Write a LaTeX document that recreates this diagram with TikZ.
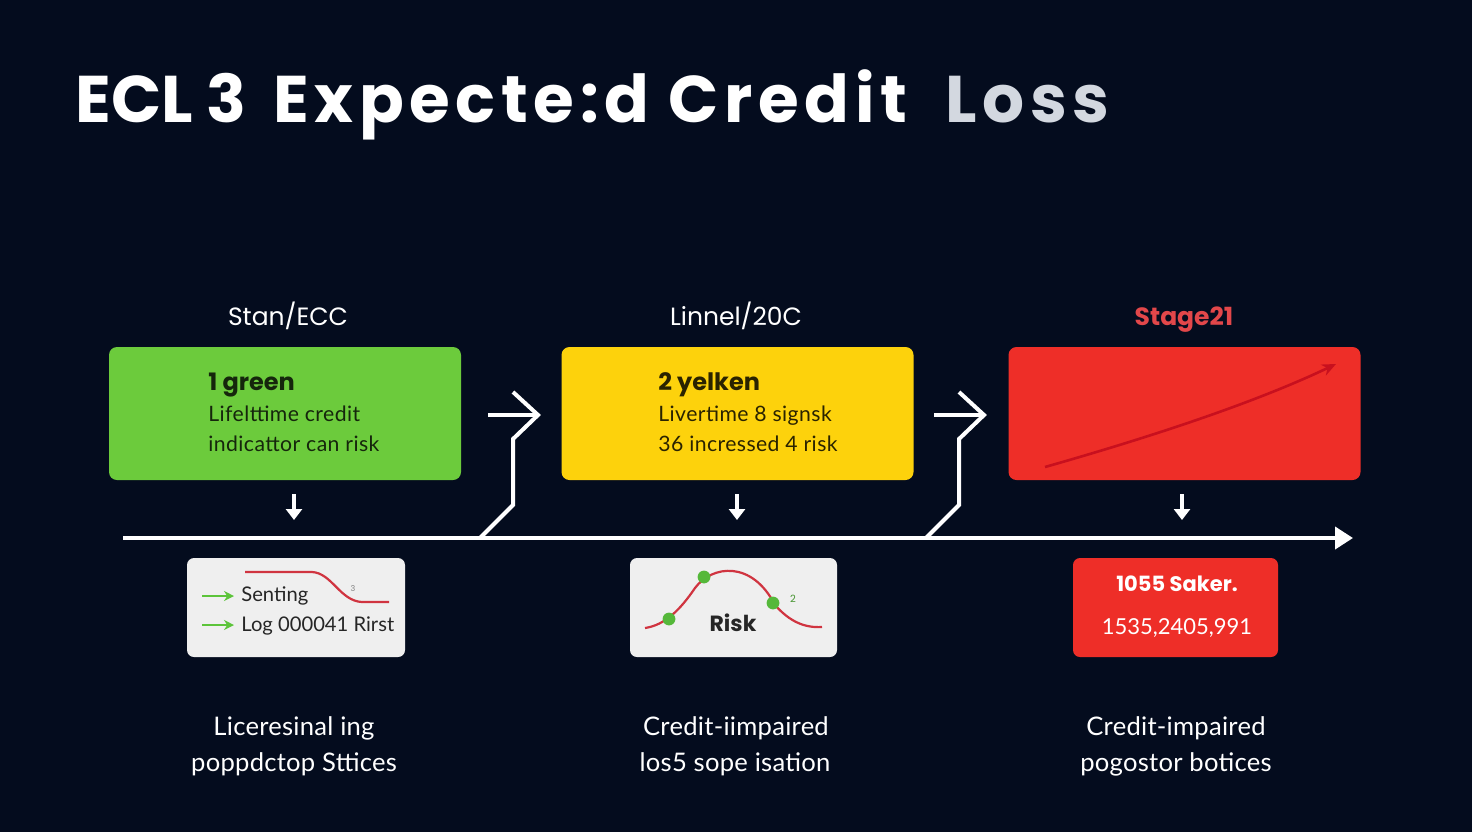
\documentclass[tikz,border=0pt]{standalone}
\usepackage{fontspec}
\setmainfont{Poppins}
\newfontfamily\titlefont[LetterSpace=8.5]{Poppins}
\newfontfamily\bodyfont{Lato}
\newfontfamily\boxfont[LetterSpace=2]{Lato}
\newfontfamily\botfont[LetterSpace=1]{Lato}
\usetikzlibrary{arrows.meta}
\definecolor{bgc}{HTML}{040C1E}
\definecolor{grn}{HTML}{6CCB3C}
\definecolor{ylw}{HTML}{FDD20C}
\definecolor{rdb}{HTML}{EE2E28}
\definecolor{rdl}{HTML}{E2474A}
\definecolor{rdline}{HTML}{C8101E}
\definecolor{lossc}{HTML}{D3D8E0}
\definecolor{cardc}{HTML}{EFEFEF}
\definecolor{gtxt}{HTML}{15260C}
\definecolor{ytxt}{HTML}{2A2300}
\definecolor{arrg}{HTML}{5CC43A}
\definecolor{dotg}{HTML}{55B83A}
\tikzset{
  titletxt/.style={anchor=base west, inner sep=0pt, font=\titlefont\fontsize{33}{36}\selectfont\bfseries},
  stagelbl/.style={anchor=base, inner sep=0pt, font=\fontsize{12.5}{14}\selectfont},
  stagebox/.style={rectangle, rounded corners=4pt, minimum width=176pt, minimum height=66.5pt, inner sep=0pt},
  boxhead/.style={anchor=base west, inner sep=0pt, font=\fontsize{12}{14}\selectfont\bfseries},
  boxtxt/.style={anchor=base west, inner sep=0pt, font=\boxfont\fontsize{10.6}{12}\selectfont},
  card/.style={rectangle, rounded corners=3.5pt, minimum height=49.5pt, inner sep=0pt},
  cardtxt/.style={anchor=base west, inner sep=0pt, font=\bodyfont\fontsize{10.1}{12}\selectfont, text=black!85},
  bottxt/.style={anchor=base, inner sep=0pt, font=\botfont\fontsize{12.8}{14}\selectfont, text=white},
  wline/.style={draw=white, line width=2pt},
  downarr/.style={draw=white, line width=1.6pt, -{Triangle[width=8pt,length=5.5pt]}},
}
\begin{document}
\begin{tikzpicture}[x=0.5pt,y=-0.5pt]
\fill[bgc] (0,0) rectangle (1472,832);
\useasboundingbox (0,0) rectangle (1472,832);

% title
\node[titletxt, text=white, font=\fontsize{33}{36}\selectfont\bfseries] (t1) at (75,122) {ECL 3};
\node[titletxt, text=white] (t2) at (273,122) {Expecte:d Credit};
\node[titletxt, text=lossc] (t3) at (945,122) {Loss};

% stage labels
\node[stagelbl, text=white] (l1) at (288,325) {Stan/ECC};
\node[stagelbl, text=white] (l2) at (736,325) {Linnel/20C};
\node[stagelbl, text=rdl, font=\fontsize{12.5}{14}\selectfont\bfseries] (l3) at (1184,325) {Stage21};

% stage boxes
\node[stagebox, fill=grn] (b1) at (285,413.5) {};
\node[stagebox, fill=ylw] (b2) at (737.5,413.5) {};
\node[stagebox, fill=rdb] (b3) at (1184.5,413.5) {};

\node[boxhead, text=gtxt] (b1h) at (208,390) {1 green};
\node[boxtxt, text=gtxt] (b1a) at (208,421) {Lifelttime credit};
\node[boxtxt, text=gtxt] (b1b) at (208,451) {indicattor can risk};

\node[boxhead, text=ytxt] (b2h) at (658,390) {2 yelken};
\node[boxtxt, text=ytxt] (b2a) at (658,421) {Livertime 8 signsk};
\node[boxtxt, text=ytxt] (b2b) at (658,451) {36 incressed 4 risk};

\coordinate (r1) at (1045,467);
\coordinate (r2) at (1336,364);
\draw[rdline, line width=1.3pt, -{Stealth[length=7pt,width=6pt]}] (r1) .. controls (1140,440) and (1250,405) .. (r2);

% small down arrows
\coordinate (d1a) at (294,494); \coordinate (d1b) at (294,520);
\coordinate (d2a) at (737,494); \coordinate (d2b) at (737,520);
\coordinate (d3a) at (1182,494); \coordinate (d3b) at (1182,520);
\draw[downarr] (d1a) -- (d1b);
\draw[downarr] (d2a) -- (d2b);
\draw[downarr] (d3a) -- (d3b);

% main axis
\coordinate (axL) at (123,538);
\coordinate (axR) at (1353,538);
\draw[wline, -{Triangle[width=11pt,length=9pt]}] (axL) -- (axR);

% connectors between stages
\coordinate (c1s) at (480,538);
\coordinate (c1tip) at (538,415);
\coordinate (c1h) at (488,415);
\coordinate (c1u) at (513,392);
\draw[wline, line join=miter] (c1s) -- (513,505) -- (513,439) -- (c1tip) -- (c1u);
\draw[wline] (c1h) -- (c1tip);

\coordinate (c2s) at (926,538);
\coordinate (c2tip) at (984,415);
\coordinate (c2h) at (934,415);
\coordinate (c2u) at (959,392);
\draw[wline, line join=miter] (c2s) -- (959,505) -- (959,439) -- (c2tip) -- (c2u);
\draw[wline] (c2h) -- (c2tip);

% lower cards
\node[card, fill=cardc, minimum width=109pt] (k1) at (296,607.5) {};
\node[card, fill=cardc, minimum width=103.5pt] (k2) at (733.5,607.5) {};
\node[card, fill=rdb, minimum width=102.5pt] (k3) at (1175.5,607.5) {};

% card 1
\coordinate (g1a) at (202,596); \coordinate (g1b) at (234,596);
\coordinate (g2a) at (202,625); \coordinate (g2b) at (234,625);
\draw[arrg, line width=1.3pt, -{Stealth[length=5pt,width=5pt]}] (g1a) -- (g1b);
\draw[arrg, line width=1.3pt, -{Stealth[length=5pt,width=5pt]}] (g2a) -- (g2b);
\node[cardtxt] (k1a) at (241,601) {Senting};
\node[cardtxt] (k1b) at (241,631) {Log 000041 Rirst};
\draw[rdline!85, line width=1.1pt] (245,572) -- (312,572) .. controls (332,573) and (340,601) .. (362,602) -- (389,602);
\node[inner sep=0pt, font=\fontsize{4}{5}\selectfont, text=black!50] (k1n) at (353,589) {3};

% card 2
\draw[rdline!85, line width=1.1pt] (645,628) .. controls (665,625) and (680,610) .. (695,588)
  .. controls (712,565) and (752,560) .. (775,605) .. controls (790,622) and (805,628) .. (822,627);
\fill[dotg] (669,619) circle (3.2pt);
\fill[dotg] (704,577) circle (3.2pt);
\fill[dotg] (773,603) circle (3.2pt);
\node[inner sep=0pt, font=\fontsize{5}{6}\selectfont, text=dotg!80!black] (k2n) at (793,599) {2};
\node[anchor=base, inner sep=0pt, font=\fontsize{11}{12}\selectfont\bfseries, text=black!85] (k2a) at (733,631) {Risk};

% card 3
\node[anchor=base, inner sep=0pt, font=\fontsize{10.5}{12}\selectfont\bfseries, text=white] (k3a) at (1177,591) {1055 Saker.};
\node[anchor=base, inner sep=0pt, font=\bodyfont\fontsize{11}{12}\selectfont, text=white] (k3b) at (1177,634) {1535,2405,991};

% bottom texts
\node[bottxt] (s1a) at (294,735) {Liceresinal ing};
\node[bottxt] (s1b) at (294,771) {poppdctop Sttices};
\node[bottxt] (s2a) at (736,735) {Credit-iimpaired};
\node[bottxt] (s2b) at (735,771) {los5 sope isation};
\node[bottxt] (s3a) at (1176,735) {Credit-impaired};
\node[bottxt] (s3b) at (1176,771) {pogostor botices};
\end{tikzpicture}
\end{document}
